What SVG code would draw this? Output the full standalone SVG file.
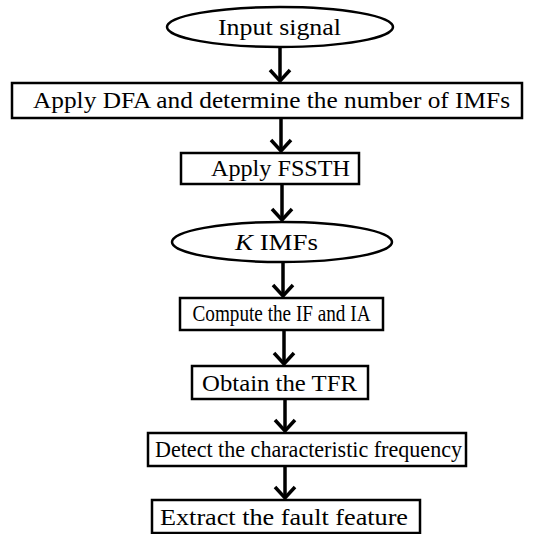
<svg xmlns="http://www.w3.org/2000/svg" width="548" height="534" viewBox="0 0 548 534">
<style>
.n{fill:#fff;stroke:#000;stroke-width:2.5}
.t{font-family:"Liberation Serif","Times New Roman",serif;font-size:24px;fill:#000;text-anchor:middle}
.c{stroke:#000;stroke-width:3.5;fill:none}
.h{stroke:#000;stroke-width:3.5;fill:none;stroke-linejoin:miter}
</style>
<rect width="548" height="534" fill="#fff"/>
<g id="connectors">
<line class="c" x1="280" y1="47" x2="280" y2="81"/><polyline class="h" points="270,70 280,81 290,70"/>
<line class="c" x1="281" y1="118" x2="281" y2="151"/><polyline class="h" points="271,140 281,151 291,140"/>
<line class="c" x1="282" y1="184" x2="282" y2="220"/><polyline class="h" points="272,209 282,220 292,209"/>
<line class="c" x1="283" y1="262" x2="283" y2="296"/><polyline class="h" points="273,285 283,296 293,285"/>
<line class="c" x1="284" y1="330" x2="284" y2="364"/><polyline class="h" points="274,353 284,364 294,353"/>
<line class="c" x1="285" y1="399" x2="285" y2="431"/><polyline class="h" points="275,420 285,431 295,420"/>
<line class="c" x1="285" y1="466" x2="285" y2="498"/><polyline class="h" points="275,487 285,498 295,487"/>
</g>
<g id="input"><ellipse class="n" cx="280" cy="27" rx="113" ry="20"/><text class="t" x="279.5" y="35" textLength="123" lengthAdjust="spacingAndGlyphs">Input signal</text></g>
<g id="dfa"><rect class="n" x="12" y="83" width="510" height="35"/><text class="t" x="271.5" y="108" textLength="477" lengthAdjust="spacingAndGlyphs">Apply DFA and determine the number of IMFs</text></g>
<g id="fssth"><rect class="n" x="181" y="153" width="178" height="31"/><text class="t" x="280.5" y="176" textLength="139" lengthAdjust="spacingAndGlyphs">Apply FSSTH</text></g>
<g id="kimfs"><ellipse class="n" cx="282" cy="242" rx="110" ry="20"/><text class="t" x="276.5" y="250" textLength="83" lengthAdjust="spacingAndGlyphs"><tspan font-style="italic">K</tspan> IMFs</text></g>
<g id="compute"><rect class="n" x="180" y="298" width="203" height="32"/><text class="t" x="281.5" y="321" font-size="22" textLength="178" lengthAdjust="spacingAndGlyphs">Compute the IF and IA</text></g>
<g id="tfr"><rect class="n" x="192" y="366" width="176" height="33"/><text class="t" x="279.5" y="391" textLength="155" lengthAdjust="spacingAndGlyphs">Obtain the TFR</text></g>
<g id="detect"><rect class="n" x="148" y="433" width="318" height="33"/><text class="t" x="308.5" y="457" font-size="23" textLength="307" lengthAdjust="spacingAndGlyphs">Detect the characteristic frequency</text></g>
<g id="extract"><rect class="n" x="152" y="500" width="268" height="33"/><text class="t" x="284" y="525" textLength="248" lengthAdjust="spacingAndGlyphs">Extract the fault feature</text></g>
</svg>
